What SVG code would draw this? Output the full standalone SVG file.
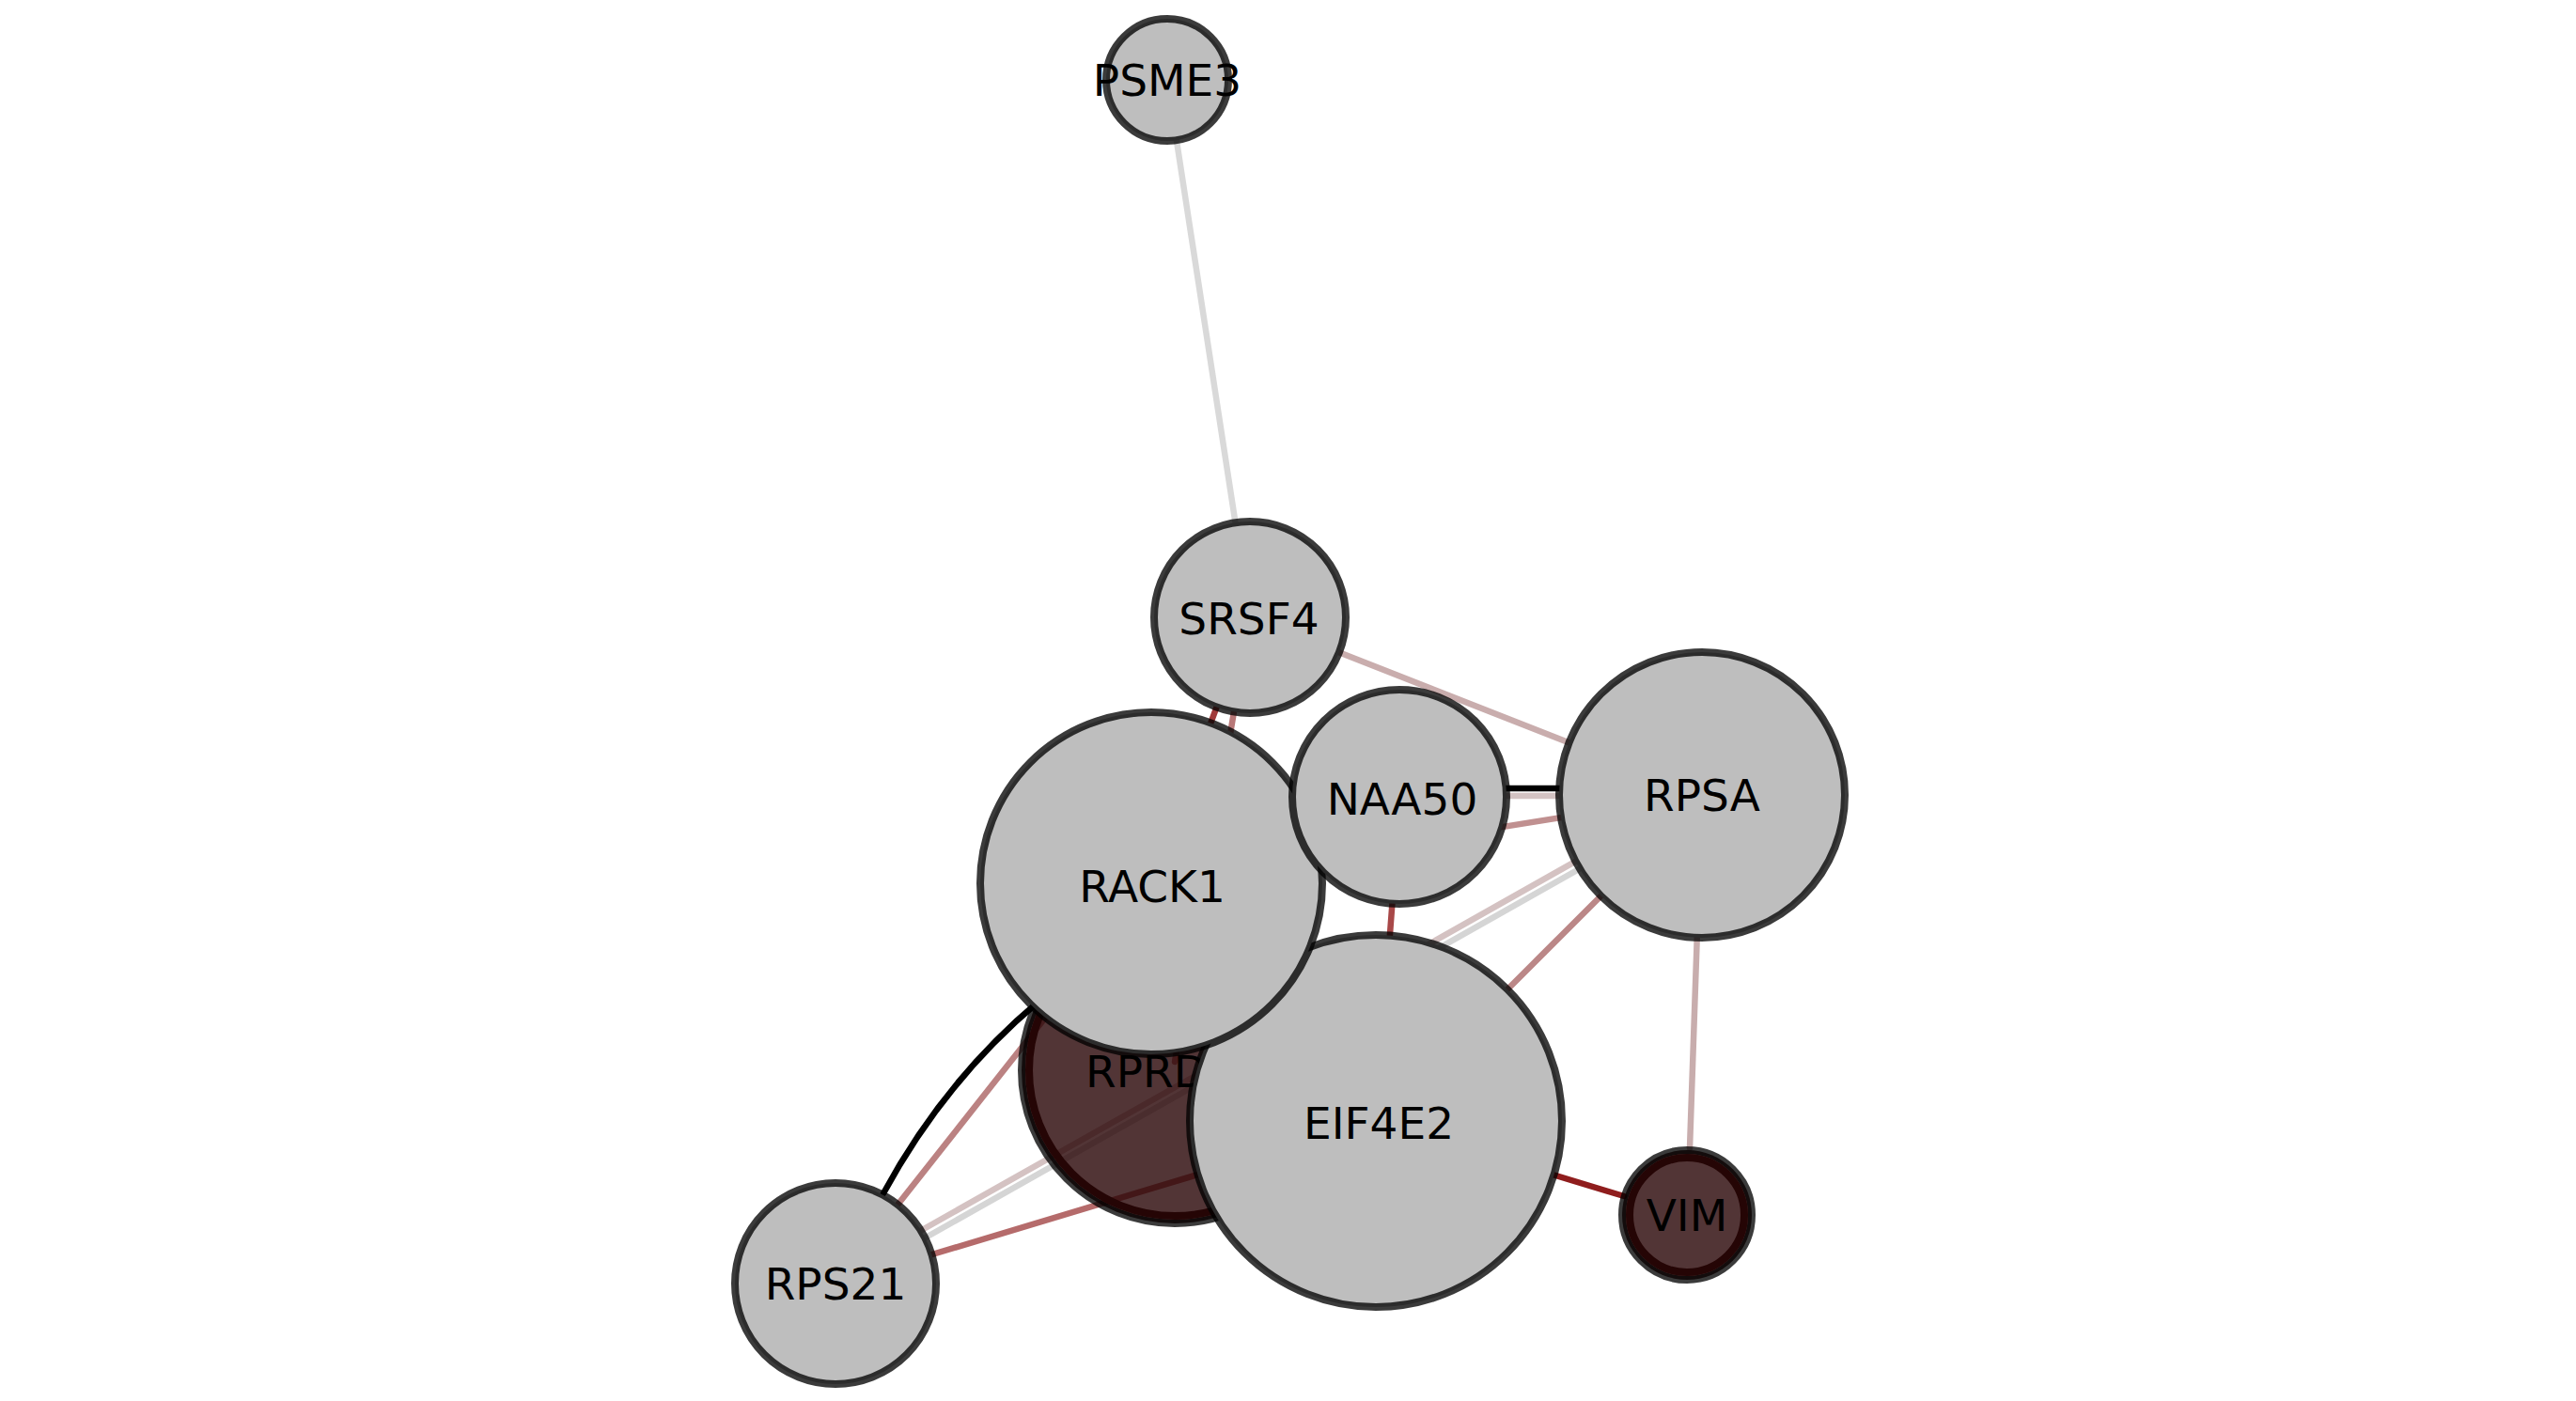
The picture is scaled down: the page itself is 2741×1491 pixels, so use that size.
<svg xmlns="http://www.w3.org/2000/svg" width="2741" height="1491" viewBox="0 0 2741 1491">
<style>
.e{fill:none;stroke-width:6.5;stroke-linecap:round}
.n{stroke:#000;stroke-opacity:0.77;stroke-width:8}
.g{fill:#bebebe}
.d{fill:#270304;fill-opacity:0.8}
.ring{fill:none;stroke:#250505;stroke-width:8}
.t{font-family:"DejaVu Sans","Liberation Sans",sans-serif;font-size:47px;fill:#000;text-anchor:middle}
</style>
<rect width="2741" height="1491" fill="#fff"/>
<g id="edges">
<line class="e" x1="1242" y1="85" x2="1330" y2="657" stroke="#d9d9d9" stroke-width="7"/>
<line class="e" x1="1330" y1="657" x2="1811" y2="846" stroke="#c9adad"/>
<line class="e" x1="1330" y1="657" x2="1225" y2="940" stroke="#a03a3a" stroke-width="5.5"/>
<line class="e" x1="1330" y1="657" x2="1250" y2="1130" stroke="#b87878" stroke-width="5.5"/>
<line class="e" x1="1490" y1="847" x2="1811" y2="847" stroke="#d3c3c3"/>
<line class="e" x1="1490" y1="839" x2="1811" y2="839" stroke="#000" stroke-width="6"/>
<line class="e" x1="1225" y1="940" x2="1811" y2="846" stroke="#c09090"/>
<line class="e" x1="1490" y1="848" x2="1464" y2="1193" stroke="#a84848" stroke-width="5.5"/>
<line class="e" x1="1811" y1="846" x2="1464" y2="1193" stroke="#bb8787" stroke-width="5.5"/>
<line class="e" x1="1809" y1="842" x2="887" y2="1362" stroke="#d4c2c2"/>
<line class="e" x1="1813" y1="850" x2="891" y2="1370" stroke="#d5d5d5"/>
<line class="e" x1="1811" y1="846" x2="1798" y2="1222" stroke="#c8adad"/>
<line class="e" x1="1464" y1="1193" x2="1728" y2="1273" stroke="#8f1d1d" stroke-width="7.5"/>
<line class="e" x1="1225" y1="940" x2="889" y2="1366" stroke="#bb8282" stroke-width="5.5"/>
<path class="e" d="M1105,1066 Q1005,1150 940,1270" stroke="#000" stroke-width="6"/>
<line class="e" x1="889" y1="1366" x2="1464" y2="1193" stroke="#b56b6b"/>
</g>
<g id="PSME3">
<circle class="n g" cx="1242" cy="85" r="65"/>
<text class="t" x="1242" y="102">PSME3</text>
</g>
<g id="SRSF4">
<circle class="n g" cx="1330" cy="657" r="102"/>
<text class="t" x="1329" y="675">SRSF4</text>
</g>
<g id="RPSA">
<circle class="n g" cx="1811" cy="846" r="152"/>
<text class="t" x="1811" y="863">RPSA</text>
</g>
<g id="VIM">
<circle class="n d" cx="1795" cy="1293" r="69"/>
<circle class="ring" cx="1795" cy="1293" r="61"/>
<text class="t" x="1795" y="1310">VIM</text>
</g>
<g id="RPS21">
<circle class="n g" cx="889" cy="1366" r="107"/>
<text class="t" x="889" y="1383">RPS21</text>
</g>
<g id="RPRD">
<circle class="n d" cx="1250" cy="1139" r="163"/>
<circle class="ring" cx="1250" cy="1139" r="155"/>
<text class="t" x="1155" y="1157" style="text-anchor:start">RPRD</text>
</g>
<g id="EIF4E2">
<circle class="n g" cx="1464" cy="1193" r="198"/>
<text class="t" x="1467" y="1212">EIF4E2</text>
</g>
<g id="RACK1">
<circle class="n g" cx="1225" cy="940" r="182"/>
<text class="t" x="1226" y="960">RACK1</text>
</g>
<g id="NAA50">
<circle class="n g" cx="1489" cy="848" r="114"/>
<text class="t" x="1492" y="867">NAA50</text>
</g>
</svg>
